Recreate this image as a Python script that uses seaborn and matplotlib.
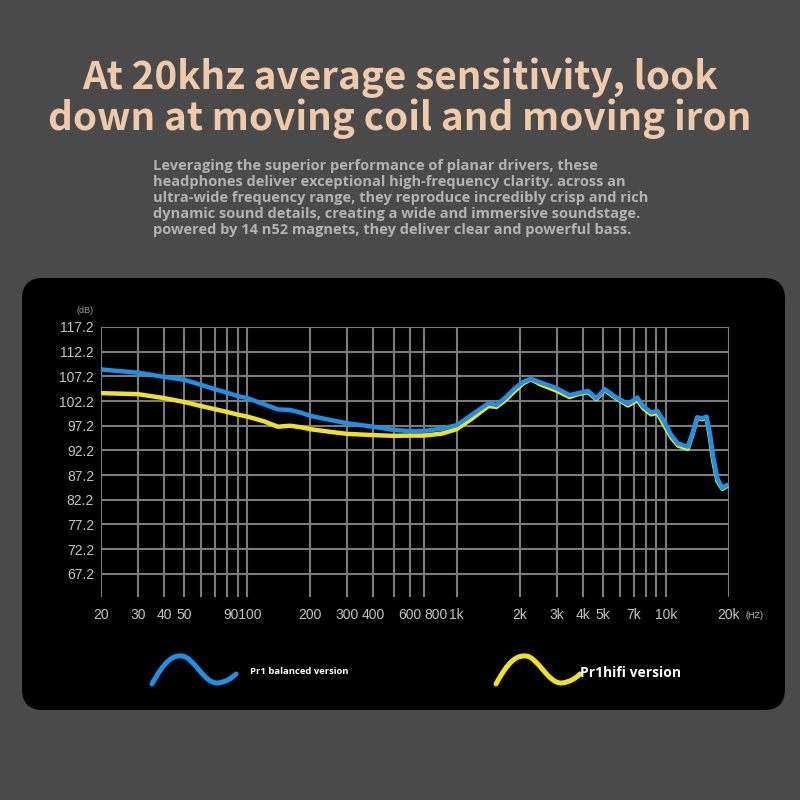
import numpy as np
import pandas as pd
import matplotlib.pyplot as plt
import seaborn as sns
from matplotlib.patches import FancyBboxPatch, PathPatch
from matplotlib.path import Path

# ----------------------------------------------------
# Data
# ----------------------------------------------------
freq_hz = [20, 30, 40, 50, 60, 70, 80, 90, 100, 120, 140, 160, 180, 200, 250, 300,
           400, 500, 600, 700, 850, 1000, 1180, 1420, 1550, 1700, 1900, 2080, 2260,
           2540, 3000, 3460, 3800, 4240, 4640, 5100, 5670, 6570, 7300, 7800, 8500,
           9100, 9800, 10600, 11400, 12700, 13400, 14100, 14900, 15600, 16200,
           16800, 17600, 18600, 19600]

balanced_db = [108.6, 107.95, 107.1, 106.5, 105.5, 104.6, 103.9, 103.2, 102.8, 101.55,
               100.5, 100.4, 99.85, 99.2, 98.35, 97.7, 97.0, 96.35, 96.1, 96.15, 96.6,
               97.3, 99.4, 101.75, 101.4, 102.8, 104.8, 106.1, 106.7, 105.9, 104.8,
               103.4, 103.8, 104.25, 102.8, 104.6, 103.2, 101.6, 102.9, 101.1, 99.9,
               100.2, 98.05, 95.3, 93.6, 92.95, 95.7, 98.9, 98.7, 99.05, 95.7, 90.9,
               86.5, 84.6, 85.2]

hifi_db = [103.8, 103.6, 102.8, 102.0, 101.2, 100.55, 100.0, 99.45, 99.05, 98.1,
           97.0, 97.2, 96.9, 96.5, 95.95, 95.55, 95.3, 95.15, 95.2, 95.2, 95.6,
           96.5, 98.6, 101.2, 101.0, 102.3, 104.3, 105.8, 106.6, 105.5, 104.3,
           103.0, 103.6, 104.0, 102.6, 104.4, 103.0, 101.3, 102.4, 100.7, 99.5,
           99.8, 97.3, 94.8, 93.2, 92.5, 95.5, 98.8, 98.5, 98.9, 95.0, 90.2,
           86.0, 84.4, 85.0]

series_names = ["Pr1hifi version", "Pr1 balanced version"]
series_colors = ["#f2e024", "#1e90e6"]

y_ticks = [67.2, 72.2, 77.2, 82.2, 87.2, 92.2, 97.2, 102.2, 107.2, 112.2, 117.2]
x_grid = [20, 30, 40, 50, 60, 70, 80, 90, 100, 200, 300, 400, 500, 600, 700, 1000,
          2000, 3000, 4000, 5000, 6000, 7000, 8000, 9000, 10000, 20000]
x_label_pos = [20, 30, 40, 50, 95, 200, 300, 400, 600, 800, 1000, 2000, 3000, 4000,
               5000, 7000, 10000, 20000]
x_labels = ["20", "30", "40", "50", "90100", "200", "300", "400", "600", "800", "1k",
            "2k", "3k", "4k", "5k", "7k", "10k", "20k"]

title_lines = ["At 20khz average sensitivity, look",
               "down at moving coil and moving iron"]
subtitle = ("Leveraging the superior performance of planar drivers, these\n"
            "headphones deliver exceptional high-frequency clarity. across an\n"
            "ultra-wide frequency range, they reproduce incredibly crisp and rich\n"
            "dynamic sound details, creating a wide and immersive soundstage.\n"
            "powered by 14 n52 magnets, they deliver clear and powerful bass.")

BG = "#4a4a4a"
GRID = "#7c7c7c"
TICK = "#c4c4c4"

df = pd.concat([
    pd.DataFrame({"freq": freq_hz, "spl": hifi_db, "version": series_names[0]}),
    pd.DataFrame({"freq": freq_hz, "spl": balanced_db, "version": series_names[1]}),
])

sns.set_theme(style="dark")
plt.rcParams["font.family"] = ["Liberation Sans", "DejaVu Sans"]

W = 800


def fx(px):
    return px / W


def fy(py):
    return 1 - py / W


fig = plt.figure(figsize=(8, 8), dpi=100, facecolor=BG)

# black rounded panel behind the chart
panel = FancyBboxPatch((fx(22), fy(710)), fx(785) - fx(22), fy(278) - fy(710),
                       boxstyle="round,pad=0,rounding_size=0.026",
                       transform=fig.transFigure, facecolor="black",
                       edgecolor="none", zorder=-5)
fig.patches.append(panel)

ax = fig.add_axes([fx(101), fy(597), fx(729) - fx(101), fy(327) - fy(597)])
ax.set_facecolor("black")

sns.lineplot(data=df, x="freq", y="spl", hue="version", hue_order=series_names,
             palette=series_colors, linewidth=3.2, legend=False, sort=False,
             ax=ax, zorder=3)

ax.set_xscale("log")
ax.set_xlim(20, 20000)
ax.set_ylim(62.5, 117.2)
ax.set_xticks(x_grid)
ax.set_xticks([], minor=True)
ax.set_xticklabels([])
ax.set_yticks(y_ticks)
ax.set_yticklabels([f"{v:.1f}" for v in y_ticks])
ax.tick_params(axis="both", length=0, colors=TICK)
ax.tick_params(axis="y", labelsize=10, pad=5)
ax.grid(True, color=GRID, linewidth=1.5)
for s in ax.spines.values():
    s.set_visible(False)
ax.set_xlabel("")
ax.set_ylabel("")

for pos, lab in zip(x_label_pos, x_labels):
    ax.text(pos, -0.068, lab, transform=ax.get_xaxis_transform(), ha="center",
            va="center", fontsize=10, color=TICK, clip_on=False)
ax.text(1.04, -0.068, "(HZ)", transform=ax.transAxes, ha="center", va="center",
        fontsize=6.5, color=TICK)
ax.text(-0.025, 1.06, "(dB)", transform=ax.transAxes, ha="center", va="center",
        fontsize=6.5, color="#9a9a9a")

# title and description
title_font = ["Noto Sans CJK SC", "DejaVu Sans"]
fig.text(0.5, fy(78), title_lines[0], ha="center", va="center", fontsize=27.8,
         fontweight="bold", color="#f1caac", family=title_font)
fig.text(0.5, fy(119), title_lines[1], ha="center", va="center", fontsize=27.8,
         fontweight="bold", color="#f1caac", family=title_font)
fig.text(fx(153), fy(159), subtitle, ha="left", va="top", fontsize=10.5,
         fontweight="bold", color="#b3b3b3", linespacing=1.18,
         family=["Open Sans", "DejaVu Sans"])


def draw_wave(x0, color):
    # cubic bezier pieces: rise to a crest, fall to a trough, rise again
    pts = [(x0, 684), (x0 + 12, 662), (x0 + 20, 655), (x0 + 30, 656),
           (x0 + 42, 657), (x0 + 52, 684), (x0 + 66, 683),
           (x0 + 74, 682), (x0 + 80, 678), (x0 + 84, 674)]
    verts = [(fx(x), fy(y)) for x, y in pts]
    codes = [Path.MOVETO] + [Path.CURVE4] * 9
    patch = PathPatch(Path(verts, codes), transform=fig.transFigure,
                      facecolor="none", edgecolor=color, linewidth=3.6,
                      capstyle="round")
    fig.patches.append(patch)


draw_wave(152, series_colors[1])
draw_wave(496, series_colors[0])

fig.text(fx(250), fy(672), series_names[1], ha="left", va="center", fontsize=6.8,
         fontweight="bold", color="white", family=["Open Sans", "DejaVu Sans"])
fig.text(fx(580), fy(673), series_names[0], ha="left", va="center", fontsize=10,
         fontweight="bold", color="white", family=["Open Sans", "DejaVu Sans"])

fig.savefig("out.png", dpi=100, facecolor=BG)
